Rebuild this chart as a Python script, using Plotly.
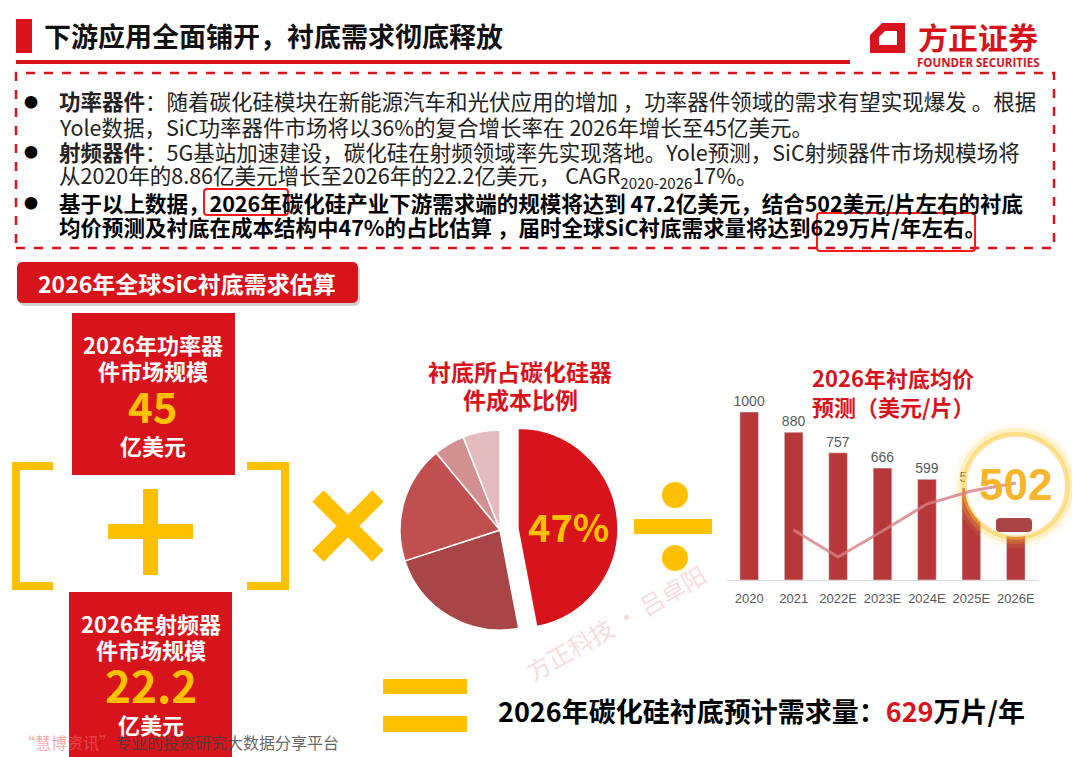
import plotly.graph_objects as go

##### Data #####
years = ['2020', '2021', '2022E', '2023E', '2024E', '2025E', '2026E']
prices = [1000, 880, 757, 666, 599, 548, 502]          # 衬底均价 美元/片
trend = [None, 298, 137, 292, 452, 530, 577]            # pink line behind the bars

cost_parts = ['衬底', '外延', '前段', '其他', '研发']
cost_share = [47, 23, 19, 5, 6]

power_market = 45      # 亿美元
rf_market = 22.2       # 亿美元
demand = 629           # 万片/年

##### Helpers (reference pixel -> paper) #####
W, H = 1080, 757
OFF = 8                # the page body adds an 8px margin, so pull everything back by it
RED = '#d7141c'
YEL = '#ffc000'
CJK = 'Noto Sans CJK SC'
LAT = 'Liberation Sans'


def fx(x):
    return (x - OFF) / W


def fy(y):
    return 1 - (y - OFF) / H


def P(x, y):
    return f"{fx(x):.5f},{fy(y):.5f}"


def rect(x0, y0, x1, y1, **kw):
    return dict(type='rect', xref='paper', yref='paper',
                x0=fx(x0), x1=fx(x1), y0=fy(y1), y1=fy(y0), **kw)


def rrect(x0, y0, x1, y1, r, **kw):
    path = (f"M{P(x0 + r, y0)} L{P(x1 - r, y0)} Q{P(x1, y0)} {P(x1, y0 + r)} "
            f"L{P(x1, y1 - r)} Q{P(x1, y1)} {P(x1 - r, y1)} L{P(x0 + r, y1)} "
            f"Q{P(x0, y1)} {P(x0, y1 - r)} L{P(x0, y0 + r)} Q{P(x0, y0)} {P(x0 + r, y0)} Z")
    return dict(type='path', xref='paper', yref='paper', path=path, **kw)


def poly(pts, **kw):
    path = 'M' + ' L'.join(P(x, y) for x, y in pts)
    return dict(type='path', xref='paper', yref='paper', path=path, **kw)


def line(x0, y0, x1, y1, color, width):
    return dict(type='line', xref='paper', yref='paper', x0=fx(x0), x1=fx(x1),
                y0=fy(y0), y1=fy(y1), line=dict(color=color, width=width))


def circ(cx, cy, r, color):
    return dict(type='circle', xref='paper', yref='paper', x0=fx(cx - r), x1=fx(cx + r),
                y0=fy(cy + r), y1=fy(cy - r), fillcolor=color, line=dict(width=0))


annotations = []


def note(x, y, text, size, color='#262626', anchor='left', family=CJK, angle=0):
    annotations.append(dict(x=fx(x), y=fy(y), xref='paper', yref='paper', text=text,
                            showarrow=False, xanchor=anchor, yanchor='middle', textangle=angle,
                            font=dict(size=size, color=color, family=family)))


##### Figure #####
fig = go.Figure()

fig.add_trace(go.Bar(
    x=years, y=prices, text=prices, textposition='outside', constraintext='none',
    textfont=dict(size=14, color='#595959', family=LAT),
    marker_color='#b7383b', width=0.42, cliponaxis=False,
    hoverinfo='skip', showlegend=False))

# magnifier round 2026E (glow rings + white disc)
for size, col in [(124, 'rgba(255,210,80,0.10)'), (116, 'rgba(255,205,60,0.22)'),
                  (108, 'rgba(255,196,40,0.45)')]:
    fig.add_trace(go.Scatter(x=[years[-1]], y=[560], mode='markers', cliponaxis=False,
                             marker=dict(size=size, color=col, line=dict(width=0)),
                             hoverinfo='skip', showlegend=False))
fig.add_trace(go.Scatter(x=[years[-1]], y=[560], mode='markers', cliponaxis=False,
                         marker=dict(size=100, color='white', line=dict(color='#fbe3a4', width=2)),
                         hoverinfo='skip', showlegend=False))

fig.add_trace(go.Scatter(
    x=years, y=trend, mode='lines', cliponaxis=False,
    line=dict(color='rgba(214,128,132,0.8)', width=3),
    hoverinfo='skip', showlegend=False))

pie_cx, pie_cy, pie_r, pull = 500, 530, 100, 0.18
half = pie_r * (1 + pull)
fig.add_trace(go.Pie(
    labels=cost_parts, values=cost_share, sort=False, direction='clockwise', rotation=0,
    pull=[pull, 0, 0, 0, 0], textinfo='none', hoverinfo='skip', showlegend=False,
    marker=dict(colors=[RED, '#a84647', '#c0504f', '#d39091', '#e3bbbc'],
                line=dict(color='white', width=1.5)),
    domain=dict(x=[fx(pie_cx - half), fx(pie_cx + half)],
                y=[fy(pie_cy + half), fy(pie_cy - half)])))

shapes = []

# header
shapes.append(rect(16, 19, 32, 53, fillcolor=RED, line=dict(width=0)))
shapes.append(rect(16, 60, 850, 64, fillcolor=RED, line=dict(width=0)))
note(42, 36, '<b>下游应用全面铺开，衬底需求彻底释放</b>', 27, '#111111')

# logo
shapes.append(poly([(882, 23), (905, 23), (905, 53), (870, 53), (870, 35)],
                   fillcolor=RED, line=dict(width=0)))
shapes.append(poly([(885, 31), (897, 31), (897, 45), (879, 45), (879, 37)],
                   fillcolor='white', line=dict(width=0)))
note(978, 36, '<b>方正证券</b>', 30, RED, anchor='center')
note(978, 62, '<b>FOUNDER SECURITIES</b>', 11.5, RED, anchor='center', family='Open Sans')

# dashed text frame
shapes.append(rect(16, 73, 1054, 248, line=dict(color=RED, width=2.5, dash='dash')))

body_y = [101, 126, 151, 176, 202, 226]
body = [
    '<b>功率器件</b>：随着碳化硅模块在新能源汽车和光伏应用的增加 ，功率器件领域的需求有望实现爆发 。根据',
    'Yole数据，SiC功率器件市场将以36%的复合增长率在 2026年增长至45亿美元。',
    '<b>射频器件</b>：5G基站加速建设，碳化硅在射频领域率先实现落地。Yole预测，SiC射频器件市场规模场将',
    '从2020年的8.86亿美元增长至2026年的22.2亿美元， CAGR<sub>2020-2026</sub>17%。',
    '<b>基于以上数据，2026年碳化硅产业下游需求端的规模将达到 47.2亿美元，结合502美元/片左右的衬底</b>',
    '<b>均价预测及衬底在成本结构中47%的占比估算 ，届时全球SiC衬底需求量将达到629万片/年左右。</b>',
]
for i, (yy, txt) in enumerate(zip(body_y, body)):
    note(57, yy, txt, 21.5, '#000000' if i >= 4 else '#222222')
for yy in (body_y[0], body_y[2], body_y[4]):
    note(31, yy, '●', 14, '#000000', anchor='center')

shapes.append(rrect(204, 189, 288, 215, 3, line=dict(color='#ff1a1a', width=2)))
shapes.append(rrect(817, 213, 975, 251, 3, line=dict(color='#ff1a1a', width=2)))

# left block
shapes.append(rrect(19, 265, 360, 306, 6, fillcolor='rgba(0,0,0,0.18)', line=dict(width=0)))
shapes.append(rrect(17, 262, 358, 303, 6, fillcolor=RED, line=dict(width=0)))
note(187, 283, '<b>2026年全球SiC衬底需求估算</b>', 23, 'white', anchor='center')

shapes.append(rect(72, 313, 235, 475, fillcolor=RED, line=dict(width=0)))
note(153, 344, '<b>2026年功率器</b>', 22, 'white', anchor='center')
note(153, 370, '<b>件市场规模</b>', 22, 'white', anchor='center')
note(153, 404, f'<b>{power_market}</b>', 42, YEL, anchor='center')
note(153, 445, '<b>亿美元</b>', 22, 'white', anchor='center')

shapes.append(rect(69, 592, 232, 765, fillcolor=RED, line=dict(width=0)))
note(151, 623, '<b>2026年射频器</b>', 22, 'white', anchor='center')
note(151, 649, '<b>件市场规模</b>', 22, 'white', anchor='center')
note(151, 684, f'<b>{rf_market}</b>', 44, YEL, anchor='center')
note(151, 724, '<b>亿美元</b>', 22, 'white', anchor='center')

# brackets, plus, times
shapes.append(poly([(53, 466), (16, 466), (16, 586), (53, 586)],
                   line=dict(color=YEL, width=8)))
shapes.append(poly([(247, 466), (285, 466), (285, 586), (247, 586)],
                   line=dict(color=YEL, width=8)))
shapes.append(rect(143, 489, 158, 575, fillcolor=YEL, line=dict(width=0)))
shapes.append(rect(108, 524, 193, 539, fillcolor=YEL, line=dict(width=0)))
shapes.append(line(318, 496, 378, 556, YEL, 16))
shapes.append(line(378, 496, 318, 556, YEL, 16))

# pie
note(520, 371, '<b>衬底所占碳化硅器</b>', 23, RED, anchor='center')
note(520, 399, '<b>件成本比例</b>', 23, RED, anchor='center')
note(568, 525, f'<b>{cost_share[0]}%</b>', 38, YEL, anchor='center')

# divide sign
shapes.append(circ(675, 495, 13, YEL))
shapes.append(rect(634, 519, 712, 534, fillcolor=YEL, line=dict(width=0)))
shapes.append(circ(675, 558, 13, YEL))

# bar chart title and magnifier content
note(810, 377, '<b>2026年衬底均价</b>', 22, RED)
note(810, 406, '<b>预测（美元/片）</b>', 22, RED)
shapes.append(rrect(996, 518, 1032, 532, 4, fillcolor='#a94445', line=dict(width=0)))
note(1015, 484, f'<b>{prices[-1]}</b>', 44, '#f6b52b', anchor='center', family=LAT)

# equals + result
shapes.append(rect(383, 679, 467, 694, fillcolor=YEL, line=dict(width=0)))
shapes.append(rect(383, 716, 467, 732, fillcolor=YEL, line=dict(width=0)))
note(496, 710, f'<b>2026年碳化硅衬底预计需求量：<span style="color:{RED}">{demand}</span>万片/年</b>',
     27, '#000000')

# watermark + footer
note(615, 622, '方正科技 · 吕卓阳', 24, 'rgba(225,120,120,0.28)', anchor='center', angle=-30)
note(17, 742, '<span style="color:rgba(235,110,110,0.75)">“慧博资讯”</span>专业的投资研究大数据分享平台',
     16, 'rgba(60,60,60,0.8)')

fig.update_layout(
    width=W, height=H,
    margin=dict(l=0, r=0, t=0, b=0),
    paper_bgcolor='white', plot_bgcolor='rgba(0,0,0,0)',
    shapes=shapes, annotations=annotations,
    xaxis=dict(domain=[fx(727), fx(1038)], type='category', range=[-0.5, 6.5],
               showgrid=False, zeroline=False, tickangle=0, ticklabelstandoff=6,
               showline=True, linecolor='#d9d9d9', linewidth=1, ticks='',
               tickfont=dict(size=13, color='#595959', family=LAT)),
    yaxis=dict(domain=[fy(580), fy(378.4)], range=[0, 1200], visible=False),
)

fig.write_html("out.html")
